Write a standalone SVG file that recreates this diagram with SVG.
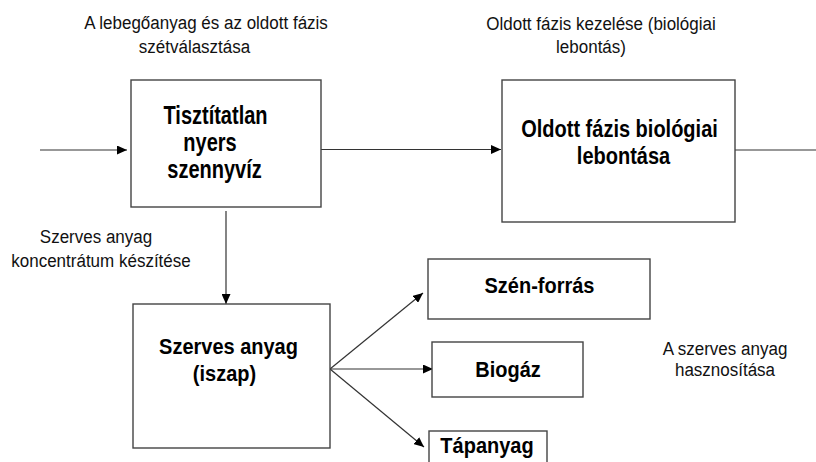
<svg xmlns="http://www.w3.org/2000/svg" width="816" height="462" viewBox="0 0 816 462">
<defs>
<style>
.box{fill:#fff;stroke:#444;stroke-width:1.4}
.lbl{font-family:"Liberation Sans",Arial,sans-serif;font-size:17px;fill:#111;text-anchor:middle}
.nt{font-family:"Liberation Sans",Arial,sans-serif;font-size:20px;font-weight:bold;fill:#000;text-anchor:middle}
.ln{stroke:#333;stroke-width:1.2;fill:none}
</style>
<marker id="ah" markerWidth="10" markerHeight="9" refX="10" refY="4.5" orient="auto" markerUnits="userSpaceOnUse">
<path d="M0,0 L10,4.5 L0,9 Z" fill="#000"/>
</marker>
</defs>
<rect width="816" height="462" fill="#fff"/>

<g id="label-top-left">
<text class="lbl" transform="translate(206,29) scale(1,1.05)">A lebegőanyag és az oldott fázis</text>
<text class="lbl" transform="translate(194.5,53) scale(1,1.05)">szétválasztása</text>
</g>
<g id="label-top-right">
<text class="lbl" transform="translate(601,30) scale(1,1.05)">Oldott fázis kezelése (biológiai</text>
<text class="lbl" transform="translate(591,53) scale(1,1.05)">lebontás)</text>
</g>
<g id="label-left">
<text class="lbl" transform="translate(96,243) scale(1,1.05)">Szerves anyag</text>
<text class="lbl" transform="translate(101,267) scale(1,1.05)">koncentrátum készítése</text>
</g>
<g id="label-right">
<text class="lbl" transform="translate(725,355) scale(1,1.05)">A szerves anyag</text>
<text class="lbl" transform="translate(725,376) scale(1,1.05)">hasznosítása</text>
</g>

<g id="connectors">
<line class="ln" x1="40" y1="150" x2="127" y2="150" marker-end="url(#ah)"/>
<line class="ln" x1="321" y1="149.5" x2="501" y2="149.5" marker-end="url(#ah)"/>
<line class="ln" x1="735" y1="150" x2="816" y2="150"/>
<line class="ln" x1="226" y1="211" x2="226" y2="304" marker-end="url(#ah)"/>
<line class="ln" x1="330" y1="369" x2="423" y2="293" marker-end="url(#ah)"/>
<line class="ln" x1="330" y1="369" x2="433" y2="369" marker-end="url(#ah)"/>
<line class="ln" x1="330" y1="369" x2="424" y2="447" marker-end="url(#ah)"/>
</g>

<g id="node-tisztitatlan">
<rect class="box" x="131" y="80" width="190" height="127"/>
<text class="nt" transform="translate(215.5,124) scale(1,1.28)">Tisztítatlan</text>
<text class="nt" transform="translate(210,151) scale(1,1.28)">nyers</text>
<text class="nt" transform="translate(214.5,178) scale(1,1.28)">szennyvíz</text>
</g>
<g id="node-oldott">
<rect class="box" x="502" y="80" width="233" height="142"/>
<text class="nt" transform="translate(619.5,136.5) scale(1,1.15)">Oldott fázis biológiai</text>
<text class="nt" transform="translate(623.5,163.5) scale(1,1.15)">lebontása</text>
</g>
<g id="node-szerves">
<rect class="box" x="133" y="304" width="197" height="144"/>
<text class="nt" transform="translate(228.5,354) scale(1,1.08)">Szerves anyag</text>
<text class="nt" transform="translate(224.5,381) scale(1,1.08)">(iszap)</text>
</g>
<g id="node-szenforras">
<rect class="box" x="428" y="259" width="222" height="60"/>
<text class="nt" transform="translate(539.5,293) scale(1,1.08)">Szén-forrás</text>
</g>
<g id="node-biogaz">
<rect class="box" x="432" y="342" width="151" height="55"/>
<text class="nt" transform="translate(508,377) scale(1,1.08)">Biogáz</text>
</g>
<g id="node-tapanyag">
<rect class="box" x="429" y="431" width="118" height="40"/>
<text class="nt" transform="translate(487,453) scale(1,1.08)">Tápanyag</text>
</g>
</svg>
